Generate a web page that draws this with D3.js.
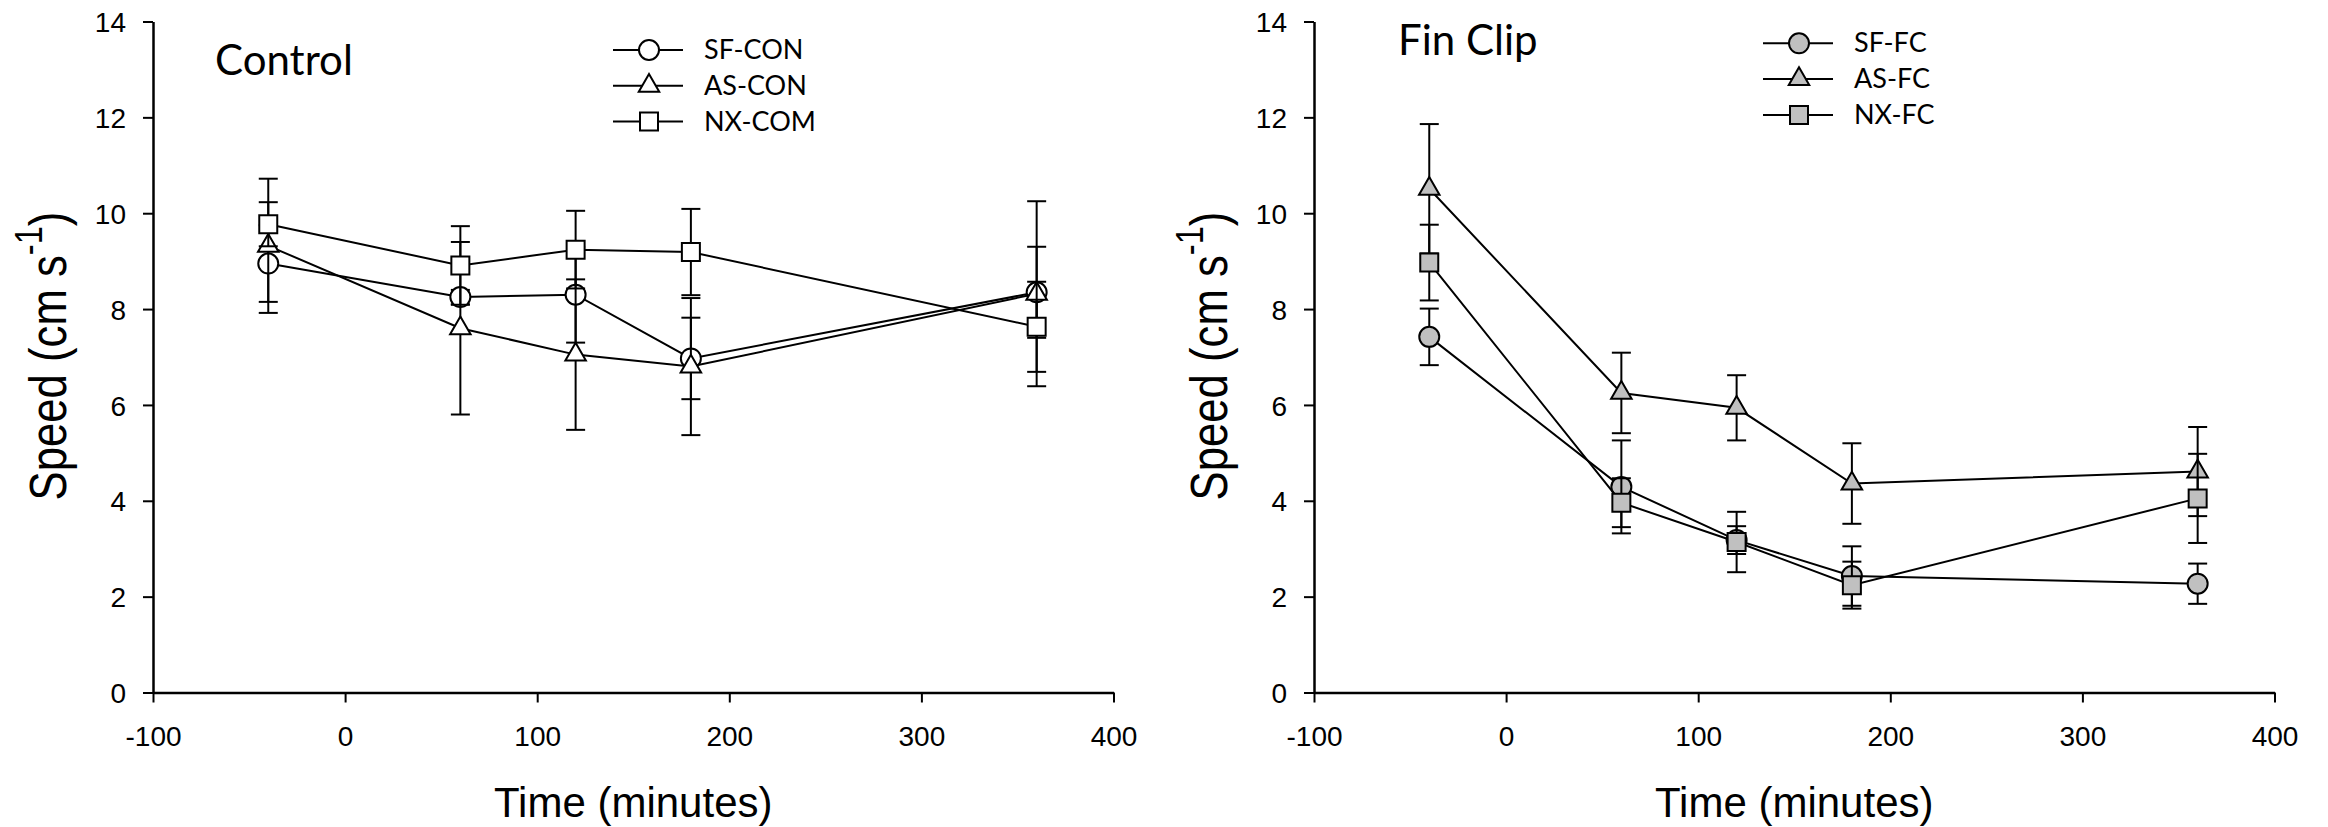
<!DOCTYPE html>
<html>
<head>
<meta charset="utf-8">
<script src="https://cdn.jsdelivr.net/npm/d3@7/dist/d3.min.js"></script>
<style>
    html, body { margin: 0; padding: 0; background: #fff; }
    svg { display: block; }
</style>
</head>
<body>
<svg id="chart" width="2328" height="827"></svg>
<script>

// ##################################################
// #                                                #
// #  Data                                          #
// #                                                #
// ##################################################

const times = [-40, 60, 120, 180, 360];
const xTicks = [-100, 0, 100, 200, 300, 400];
const yTicks = [0, 2, 4, 6, 8, 10, 12, 14];

// Control
const controlNames = ['SF-CON', 'AS-CON', 'NX-COM'];
const sfCon = [8.95, 8.25, 8.30, 6.97, 8.35];
const sfConErr = [0.80, 0.15, 1.00, 0.85, 0.95];
const asCon = [9.32, 7.60, 7.05, 6.80, 8.32];
const asConErr = [1.40, 1.80, 1.57, 1.43, 1.93];
const nxCom = [9.77, 8.91, 9.24, 9.19, 7.63];
const nxComErr = [0.46, 0.82, 0.81, 0.90, 0.94];

// Fin Clip
const finClipNames = ['SF-FC', 'AS-FC', 'NX-FC'];
const sfFc = [7.42, 4.29, 3.18, 2.43, 2.27];
const sfFcErr = [0.59, 0.97, 0.29, 0.62, 0.42];
const asFc = [10.51, 6.25, 5.94, 4.36, 4.61];
const asFcErr = [1.35, 0.84, 0.68, 0.84, 0.93];
const nxFc = [8.97, 3.96, 3.14, 2.24, 4.05];
const nxFcErr = [0.79, 0.51, 0.63, 0.49, 0.93];

const symbols = [d3.symbolCircle, d3.symbolTriangle, d3.symbolSquare];
const symbolSizes = [314, 182, 324];

function series(name, means, errs, i) {
    return {
        name,
        symbol: symbols[i],
        size: symbolSizes[i],
        points: times.map((t, j) => ({ t, m: means[j], e: errs[j] }))
    };
}

const controlSeries = [
    series(controlNames[0], sfCon, sfConErr, 0),
    series(controlNames[1], asCon, asConErr, 1),
    series(controlNames[2], nxCom, nxComErr, 2)
];

const finClipSeries = [
    series(finClipNames[0], sfFc, sfFcErr, 0),
    series(finClipNames[1], asFc, asFcErr, 1),
    series(finClipNames[2], nxFc, nxFcErr, 2)
];

// ##################################################
// #                                                #
// #  Panel                                         #
// #                                                #
// ##################################################

function panel(opts) {

    let _plotWidth = 960.5;
    let _top = 21.5;
    let _bottom = 692.5;
    let _capHalf = 9.5;
    let _tickFont = '"Liberation Sans", Arial, sans-serif';
    let _labelFont = 'Lato, "Open Sans", sans-serif';

    function visual(_selection) {
        _selection.each(function (data) {

            let root = d3.select(this)
                .append('g')
                .attr('transform', `translate(${opts.left},0)`);

            let x = d3.scaleLinear().domain([-100, 400]).range([0, _plotWidth]);
            let y = d3.scaleLinear().domain([0, 14]).range([_bottom, _top]);

            initAxes(root, x, y);
            initTitles(root);
            initSeries(root, data, x, y);
            initLegend(root, data);
        });
    }

    return visual;

    function initAxes(rootGroup, x, y) {
        let xAxis = rootGroup.append('g')
            .attr('transform', `translate(0,${y(0)})`)
            .call(d3.axisBottom(x)
                .tickValues(xTicks)
                .tickFormat(d => String(d)) // plain hyphen, like the original
                .tickSize(10).tickSizeOuter(0).tickPadding(24));

        let yAxis = rootGroup.append('g')
            .call(d3.axisLeft(y).tickValues(yTicks).tickSize(10).tickSizeOuter(0).tickPadding(17));

        for (const axis of [xAxis, yAxis]) {
            axis.attr('font-family', _tickFont).attr('font-size', 28);
            axis.select('.domain').attr('stroke', '#000').attr('stroke-width', 2.5);
            axis.selectAll('.tick line').attr('stroke', '#000').attr('stroke-width', 2);
            axis.selectAll('.tick text').attr('fill', '#000');
        }
        yAxis.selectAll('.tick text').attr('dy', '0.36em');
    }

    function initTitles(rootGroup) {
        rootGroup.append('text')
            .attr('x', _plotWidth / 2)
            .attr('y', 817)
            .attr('text-anchor', 'middle')
            .attr('font-family', _tickFont)
            .attr('font-size', 42)
            .text('Time (minutes)');

        let yLabel = rootGroup.append('text')
            .attr('transform', `translate(-87,356) rotate(-90) scale(0.84,1)`)
            .attr('text-anchor', 'middle')
            .attr('font-family', _tickFont)
            .attr('font-size', 52);
        yLabel.append('tspan').text('Speed (cm s');
        yLabel.append('tspan').attr('font-size', 39).attr('dy', -24).text('-1');
        yLabel.append('tspan').attr('dy', 24).text(')');

        rootGroup.append('text')
            .attr('x', opts.titleX)
            .attr('y', opts.titleY)
            .attr('font-family', _labelFont)
            .attr('font-size', opts.titleSize)
            .text(opts.title);
    }

    function initSeries(rootGroup, data, x, y) {
        let line = d3.line()
            .x(d => x(d.t))
            .y(d => y(d.m));

        let seriesGroup = rootGroup.selectAll('.series')
            .data(data)
            .enter()
            .append('g')
            .attr('class', 'series');

        // error bars
        seriesGroup.each(function (s) {
            let bars = d3.select(this).selectAll('.err')
                .data(s.points)
                .enter()
                .append('g')
                .attr('class', 'err')
                .attr('stroke', '#000')
                .attr('stroke-width', 2);
            bars.append('line')
                .attr('x1', d => x(d.t)).attr('x2', d => x(d.t))
                .attr('y1', d => y(d.m - d.e)).attr('y2', d => y(d.m + d.e));
            bars.append('line')
                .attr('x1', d => x(d.t) - _capHalf).attr('x2', d => x(d.t) + _capHalf)
                .attr('y1', d => y(d.m + d.e)).attr('y2', d => y(d.m + d.e));
            bars.append('line')
                .attr('x1', d => x(d.t) - _capHalf).attr('x2', d => x(d.t) + _capHalf)
                .attr('y1', d => y(d.m - d.e)).attr('y2', d => y(d.m - d.e));
        });

        seriesGroup.append('path')
            .attr('d', s => line(s.points))
            .attr('fill', 'none')
            .attr('stroke', '#000')
            .attr('stroke-width', 2);

        seriesGroup.each(function (s) {
            d3.select(this).selectAll('.marker')
                .data(s.points)
                .enter()
                .append('path')
                .attr('class', 'marker')
                .attr('transform', d => `translate(${x(d.t)},${y(d.m)})`)
                .attr('d', d3.symbol().type(s.symbol).size(s.size))
                .attr('fill', opts.fill)
                .attr('stroke', '#000')
                .attr('stroke-width', 2);
        });
    }

    function initLegend(rootGroup, data) {
        let legendGroup = rootGroup.append('g')
            .attr('transform', `translate(${opts.legendX},${opts.legendY})`);

        let item = legendGroup.selectAll('.item')
            .data(data)
            .enter()
            .append('g')
            .attr('class', 'item')
            .attr('transform', (d, i) => `translate(0,${i * 35.8})`);

        item.append('line')
            .attr('x1', 0).attr('x2', 70)
            .attr('stroke', '#000')
            .attr('stroke-width', 2);
        item.append('path')
            .attr('transform', 'translate(36,0)')
            .attr('d', d => d3.symbol().type(d.symbol).size(d.size)())
            .attr('fill', opts.fill)
            .attr('stroke', '#000')
            .attr('stroke-width', 2);
        item.append('text')
            .attr('x', 91)
            .attr('dy', '0.34em')
            .attr('font-family', _labelFont)
            .attr('font-size', 27)
            .text(d => d.name);
    }

}

// ##################################################
// #                                                #
// #  Render                                        #
// #                                                #
// ##################################################

const svg = d3.select('#chart');

svg.append('g')
    .datum(controlSeries)
    .call(panel({
        left: 153, fill: '#fff', title: 'Control', titleSize: 42,
        titleX: 62, titleY: 75, legendX: 460, legendY: 50
    }));

svg.append('g')
    .datum(finClipSeries)
    .call(panel({
        left: 1314, fill: '#c0c0c0', title: 'Fin Clip', titleSize: 42,
        titleX: 84, titleY: 55, legendX: 449, legendY: 43.3
    }));

</script>
</body>
</html>
